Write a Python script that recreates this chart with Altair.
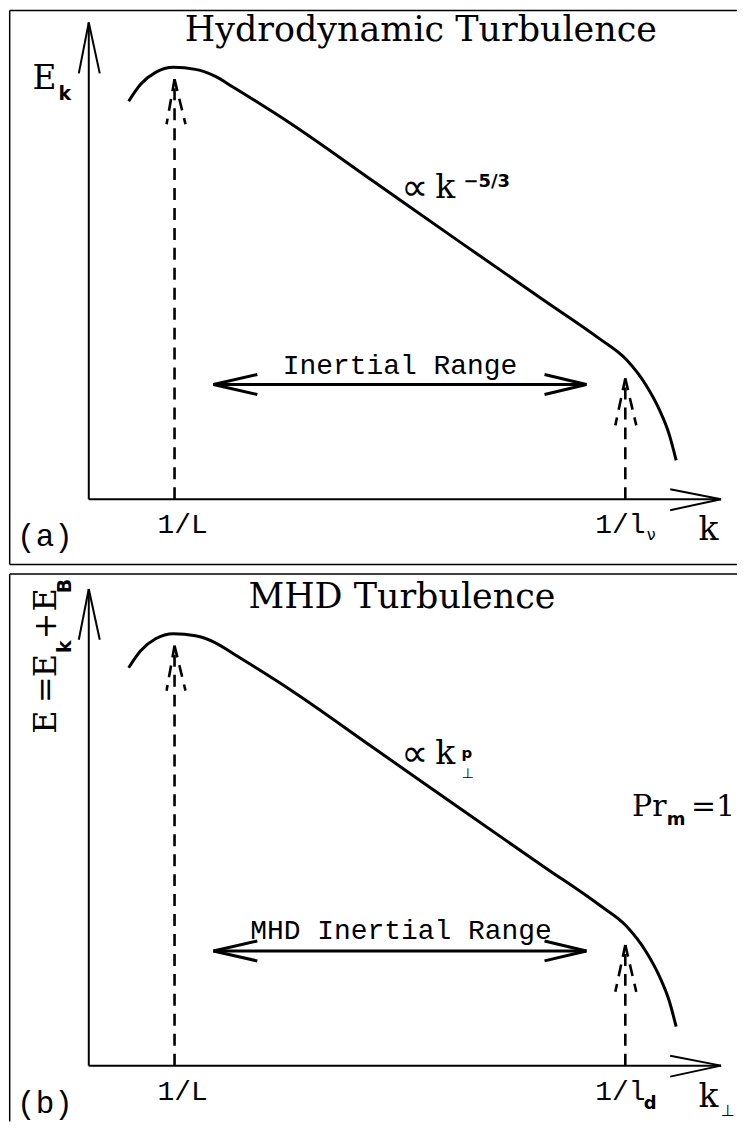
import altair as alt
import pandas as pd

# ---------------- data (diagram units: k to the right of the E-axis, E above the k-axis) ----------------
# schematic spectrum (same shape in both panels)
curve_k = [40, 52, 67, 85, 107, 127, 145, 205, 285, 372, 457, 512, 539, 559, 572, 582, 589]
curve_E = [399, 416, 428, 433, 431, 424, 413, 375, 319, 258, 199, 161, 140, 114, 90, 65, 39]

# axes with open arrow heads: segments (k, E) -> (k2, E2)
axis_k  = [0, 0, 0, 0, 634, 634]
axis_E  = [0, 478, 478, 0, 0, 0]
axis_k2 = [0, -10, 11, 634, 583, 583]
axis_E2 = [478, 427, 427, 0, 10, -11]

# dashed arrows at 1/L and at the dissipation scale
dash_k  = [86, 86, 86, 538, 538, 538]
dash_E  = [0, 421, 421, 0, 121, 121]
dash_k2 = [86, 78, 97, 538, 528, 549]
dash_E2 = [421, 376, 376, 121, 74, 74]

# double-headed inertial-range arrow
rng_k  = [125, 125, 125, 499, 499]
rng_E  = [115, 115, 115, 115, 115]
rng_k2 = [499, 169, 169, 457, 457]
rng_E2 = [115, 125, 105, 125, 105]

# panel frames
frame_a_k  = [-79.3, -79.3, -79.3]
frame_a_E  = [-65.5, 490, -65.5]
frame_a_k2 = [-79.3, 650, 650]
frame_a_E2 = [490, 490, -65.5]
frame_b_k  = [-79.3, -79.3]
frame_b_E  = [-56, 493]
frame_b_k2 = [-79.3, 650]
frame_b_E2 = [493, 493]

# ---- texts, panel (a) ----
serif_a_text = ["Hydrodynamic Turbulence", "E", "k", "k"]
serif_a_k    = [333, -44.5, 357.5, 621.5]
serif_a_E    = [459, 411, 302, -41]
serif_a_size = [35, 33, 33, 33]
serif_a_ang  = [0, 0, 0, 0]

bold_a_text = ["k", "−5/3"]
bold_a_k    = [-24, 399]
bold_a_E    = [400, 313]
bold_a_size = [19, 18]
bold_a_ang  = [0, 0]

sym_a_text = ["∝", "ν"]
sym_a_k    = [327, 564]
sym_a_E    = [300, -41]
sym_a_size = [38, 16]

mono_a_text = ["Inertial Range", "1/L", "1/l", "(a)"]
mono_a_k    = [312, 94, 533, -44]
mono_a_E    = [126, -34, -34, -47]
mono_a_size = [28, 28, 28, 31]

# ---- texts, panel (b) ----
serif_b_text = ["MHD Turbulence", "E", "=", "E", "+", "E", "k", "k", "Pr", "=1"]
serif_b_k    = [314, -33, -33, -33, -33, -33, 357.5, 621.5, 562, 626]
serif_b_E    = [459, 344.5, 377, 401, 441, 467, 302, -41, 250, 250]
serif_b_size = [35, 32, 32, 32, 32, 32, 33, 33, 30, 30]
serif_b_ang  = [0, 270, 270, 270, 270, 270, 0, 0, 0, 0]

bold_b_text = ["k", "B", "p", "d", "m"]
bold_b_k    = [-18, -18, 379, 563, 589]
bold_b_E    = [420, 481, 308, -43, 241]
bold_b_size = [19, 19, 15, 18, 18]
bold_b_ang  = [270, 270, 0, 0, 0]

sym_b_text = ["∝", "⊥", "⊥"]
sym_b_k    = [327, 380, 641]
sym_b_E    = [300, 288, -51]
sym_b_size = [38, 14, 16]

mono_b_text = ["MHD Inertial Range", "1/L", "1/l", "(b)"]
mono_b_k    = [313, 94, 533, -44]
mono_b_E    = [127, -34, -34, -47]
mono_b_size = [28, 28, 28, 31]

SERIF = "DejaVu Serif"
MONO = "Liberation Mono"
SANS = "DejaVu Sans"


def seg_df(k, E, k2, E2):
    return pd.DataFrame({"k": k, "E": E, "k2": k2, "E2": E2})


def txt_df(t, k, E, s, a=None):
    return pd.DataFrame({"t": t, "k": k, "E": E, "s": s, "a": a if a is not None else [0] * len(t)})


def panel(Edom, height, frame, serif, bold, sym, mono):
    xs = alt.Scale(domain=[-80, 650], nice=False, zero=False)
    ys = alt.Scale(domain=Edom, nice=False, zero=False)
    X = lambda f: alt.X(f, type="quantitative", scale=xs, axis=None)
    Y = lambda f: alt.Y(f, type="quantitative", scale=ys, axis=None)

    def rules(df, **kw):
        return alt.Chart(df).mark_rule(color="black", **kw).encode(
            x=X("k"), y=Y("E"), x2="k2", y2="E2")

    def texts(df, font, weight="normal"):
        return alt.Chart(df).mark_text(font=font, fontWeight=weight, align="center",
                                       baseline="alphabetic", color="black").encode(
            x=X("k"), y=Y("E"), text="t:N",
            size=alt.Size("s:Q", scale=None), angle=alt.Angle("a:Q", scale=None))

    curve = alt.Chart(pd.DataFrame({"k": curve_k, "E": curve_E})).mark_line(
        color="black", strokeWidth=3, interpolate="monotone").encode(x=X("k"), y=Y("E"))

    layers = [
        rules(frame, strokeWidth=1.5),
        rules(seg_df(axis_k, axis_E, axis_k2, axis_E2), strokeWidth=2),
        rules(seg_df(dash_k, dash_E, dash_k2, dash_E2), strokeWidth=2.6, strokeDash=[12, 8]),
        rules(seg_df(rng_k, rng_E, rng_k2, rng_E2), strokeWidth=3),
        curve,
        texts(serif, SERIF),
        texts(bold, SANS, "bold"),
        texts(sym, SANS),
        texts(mono, MONO),
    ]
    return alt.layer(*layers).properties(width=730, height=height)


pa = panel([-69, 491], 560,
           seg_df(frame_a_k, frame_a_E, frame_a_k2, frame_a_E2),
           txt_df(serif_a_text, serif_a_k, serif_a_E, serif_a_size, serif_a_ang),
           txt_df(bold_a_text, bold_a_k, bold_a_E, bold_a_size, bold_a_ang),
           txt_df(sym_a_text, sym_a_k, sym_a_E, sym_a_size),
           txt_df(mono_a_text, mono_a_k, mono_a_E, mono_a_size))
pb = panel([-56, 497], 553,
           seg_df(frame_b_k, frame_b_E, frame_b_k2, frame_b_E2),
           txt_df(serif_b_text, serif_b_k, serif_b_E, serif_b_size, serif_b_ang),
           txt_df(bold_b_text, bold_b_k, bold_b_E, bold_b_size, bold_b_ang),
           txt_df(sym_b_text, sym_b_k, sym_b_E, sym_b_size),
           txt_df(mono_b_text, mono_b_k, mono_b_E, mono_b_size))

chart = alt.vconcat(pa, pb, spacing=2, bounds="flush").properties(
    padding=0, background="white").configure_view(stroke=None)

chart.save("out.html", embed_options={"renderer": "svg", "actions": False})
